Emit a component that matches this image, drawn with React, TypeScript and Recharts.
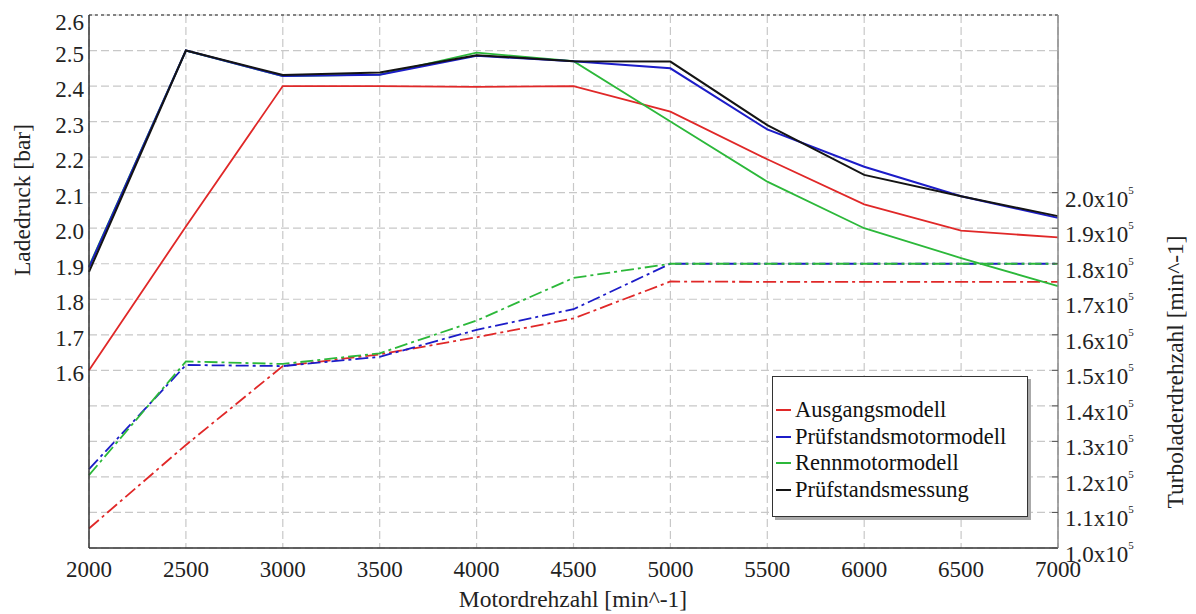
import { LineChart, Line, XAxis, YAxis, CartesianGrid, ReferenceLine, Legend } from 'recharts';

// Motordrehzahl [min^-1]
const rpm = [2000, 2500, 3000, 3500, 4000, 4500, 5000, 5500, 6000, 6500, 7000];
const minorTicks = [2250, 2750, 3250, 3750, 4250, 4750, 5250, 5750, 6250, 6750];

// Ladedruck [bar]
const druckAusgang = [1.6, 2.005, 2.4, 2.4, 2.398, 2.4, 2.328, 2.194, 2.067, 1.993, 1.974];
const druckPruefModell = [1.89, 2.5, 2.428, 2.432, 2.485, 2.47, 2.45, 2.278, 2.173, 2.09, 2.029];
const druckRenn = [1.893, 2.5, 2.428, 2.432, 2.494, 2.47, 2.3, 2.131, 2.0, 1.916, 1.837];
const druckMessung = [1.877, 2.5, 2.431, 2.438, 2.487, 2.47, 2.469, 2.29, 2.15, 2.09, 2.034];

// Turboladerdrehzahl [min^-1]
const turboAusgang = [105500, 129000, 151200, 154500, 159300, 164600, 175000, 174900, 174900, 174900, 174900];
const turboPruefModell = [122200, 151500, 151200, 153800, 161400, 167200, 180000, 180000, 180000, 180000, 180000];
const turboRenn = [120500, 152500, 151800, 154800, 164000, 176000, 180000, 180000, 180000, 180000, 180000];

const leftTicks = [1.1, 1.2, 1.3, 1.4, 1.5, 1.6, 1.7, 1.8, 1.9, 2.0, 2.1, 2.2, 2.3, 2.4, 2.5, 2.6];
const rightTicks = [100000, 110000, 120000, 130000, 140000, 150000, 160000, 170000, 180000, 190000, 200000];

const RED = '#e02828';
const BLUE = '#1c1cc8';
const GREEN = '#2cb83a';
const BLACK = '#141414';
const FONT = '"Liberation Serif", "Times New Roman", serif';
const serif = { fontFamily: FONT };

const legendNames = ['Ausgangsmodell', 'Prüfstandsmotormodell', 'Rennmotormodell', 'Prüfstandsmessung'];
const legendColors = [RED, BLUE, GREEN, BLACK];

const data = rpm.map((n, i) => ({
  n,
  dAus: druckAusgang[i],
  dPruef: druckPruefModell[i],
  dRenn: druckRenn[i],
  dMess: druckMessung[i],
  tAus: turboAusgang[i],
  tPruef: turboPruefModell[i],
  tRenn: turboRenn[i],
}));

const LeftTick = ({ x, y, payload }: any) => {
  if (payload.value < 1.55) return null;
  const top = payload.value > 2.55;
  return (
    <text x={x - 5} y={y + (top ? 15 : 11)} textAnchor="end" fontSize={23} style={serif} fill="#222">
      {payload.value.toFixed(1)}
    </text>
  );
};

const RightTick = ({ x, y, payload }: any) => {
  const m = (payload.value / 100000).toFixed(1);
  return (
    <g>
      <line x1={x - 6} x2={x} y1={y} y2={y} stroke="#555" strokeWidth={1} />
      <text x={x + 7} y={y + 14} fontSize={23} style={serif} fill="#222">
        {m}x10
        <tspan dy={-13} fontSize={11}>5</tspan>
      </text>
    </g>
  );
};

const BottomTick = ({ x, y, payload }: any) => (
  <text x={x} y={y + 29} textAnchor="middle" fontSize={23} style={serif} fill="#222">
    {payload.value}
  </text>
);

const MinorTick = ({ x, y }: any) => (
  <line x1={x} x2={x} y1={y} y2={y - 5} stroke="#444" strokeWidth={1} />
);

const LegendBox = () => (
  <div
    style={{
      width: 254,
      height: 119,
      border: '1px solid #333',
      background: '#fff',
      boxShadow: '3px 3px 0 #aaa',
      boxSizing: 'content-box',
      paddingTop: 20,
      fontFamily: FONT,
      fontSize: 22.5,
      color: '#111',
    }}
  >
    {legendNames.map((name, i) => (
      <div key={name} style={{ display: 'flex', alignItems: 'center', height: 26.5 }}>
        <span style={{ display: 'inline-block', width: 15, height: 2, background: legendColors[i], marginLeft: 3, marginRight: 4 }} />
        <span>{name}</span>
      </div>
    ))}
  </div>
);

export default function App() {
  return (
    <div style={{ position: 'absolute', left: 0, top: 0, background: '#fff' }}>
      <LineChart width={1196} height={614} data={data} margin={{ top: 15, right: 0, bottom: 0, left: 0 }}>
        <CartesianGrid xAxisId="main" yAxisId="left" stroke="#c8c8c8" strokeDasharray="8 4" strokeWidth={1.2} />
        <XAxis
          xAxisId="minor"
          dataKey="n"
          type="number"
          domain={[2000, 7000]}
          ticks={[...rpm, ...minorTicks]}
          interval={0}
          height={0}
          axisLine={false}
          tickLine={false}
          tickSize={0}
          tickMargin={0}
          tick={<MinorTick />}
        />
        <XAxis
          xAxisId="main"
          dataKey="n"
          type="number"
          domain={[2000, 7000]}
          ticks={rpm}
          interval={0}
          height={66}
          axisLine={{ stroke: '#333', strokeWidth: 1.5 }}
          tickLine={false}
          tickSize={0}
          tickMargin={0}
          tick={<BottomTick />}
        />
        <YAxis
          yAxisId="left"
          orientation="left"
          type="number"
          domain={[1.1, 2.6]}
          ticks={leftTicks}
          interval={0}
          width={89}
          axisLine={{ stroke: '#333', strokeWidth: 1.5 }}
          tickLine={false}
          tickSize={0}
          tickMargin={0}
          tick={<LeftTick />}
        />
        <YAxis
          yAxisId="right"
          orientation="right"
          type="number"
          domain={[100000, 250000]}
          ticks={rightTicks}
          interval={0}
          width={138}
          axisLine={{ stroke: '#8a8a8a', strokeWidth: 1.5 }}
          tickLine={false}
          tickSize={0}
          tickMargin={0}
          tick={<RightTick />}
        />
        <ReferenceLine xAxisId="main" yAxisId="left" y={2.6} stroke="#222" strokeDasharray="3 3" strokeWidth={1.2} />

        <Line xAxisId="main" yAxisId="right" dataKey="tAus" stroke={RED} strokeWidth={1.8} strokeDasharray="13 4 3 4" dot={false} legendType="none" isAnimationActive={false} />
        <Line xAxisId="main" yAxisId="right" dataKey="tPruef" stroke={BLUE} strokeWidth={1.8} strokeDasharray="13 4 3 4" dot={false} legendType="none" isAnimationActive={false} />
        <Line xAxisId="main" yAxisId="right" dataKey="tRenn" stroke={GREEN} strokeWidth={1.8} strokeDasharray="13 4 3 4" dot={false} legendType="none" isAnimationActive={false} />

        <Line xAxisId="main" yAxisId="left" dataKey="dAus" name="Ausgangsmodell" stroke={RED} strokeWidth={1.8} dot={false} isAnimationActive={false} />
        <Line xAxisId="main" yAxisId="left" dataKey="dRenn" name="Rennmotormodell" stroke={GREEN} strokeWidth={1.8} dot={false} isAnimationActive={false} />
        <Line xAxisId="main" yAxisId="left" dataKey="dPruef" name="Prüfstandsmotormodell" stroke={BLUE} strokeWidth={2} dot={false} isAnimationActive={false} />
        <Line xAxisId="main" yAxisId="left" dataKey="dMess" name="Prüfstandsmessung" stroke={BLACK} strokeWidth={2} dot={false} isAnimationActive={false} />

        <Legend
          layout="vertical"
          align="center"
          verticalAlign="middle"
          wrapperStyle={{ left: 772, top: 376, width: 'auto' }}
          content={<LegendBox />}
        />

        <text x={22} y={200} transform="rotate(-90 22 200)" textAnchor="middle" dominantBaseline="central" fontSize={23.5} style={serif} fill="#222">
          Ladedruck [bar]
        </text>
        <text x={1175} y={372} transform="rotate(-90 1175 372)" textAnchor="middle" dominantBaseline="central" fontSize={23.5} style={serif} fill="#222">
          Turboladerdrehzahl [min^-1]
        </text>
        <text x={573} y={607} textAnchor="middle" fontSize={23.5} style={serif} fill="#222">
          Motordrehzahl [min^-1]
        </text>
      </LineChart>
    </div>
  );
}
